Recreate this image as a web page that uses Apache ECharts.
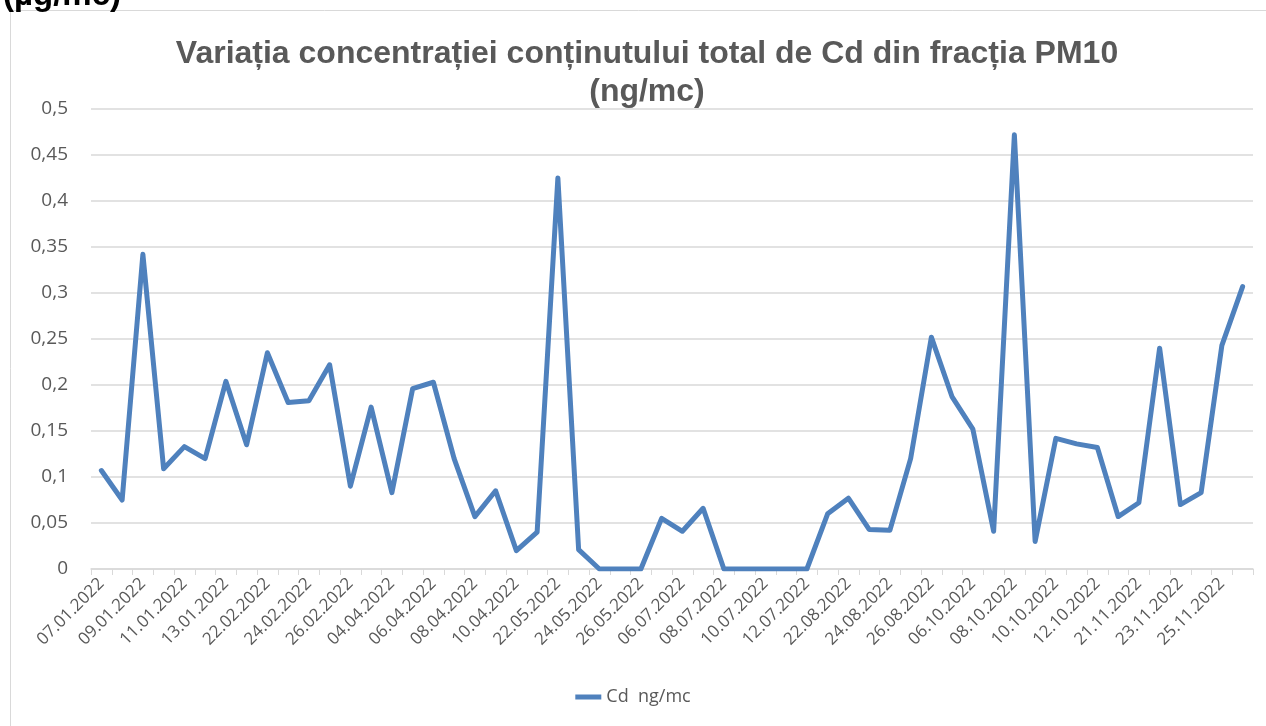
<!DOCTYPE html>
<html>
<head>
<meta charset="utf-8">
<script src="https://cdn.jsdelivr.net/npm/echarts@6/dist/echarts.min.js"></script>
<style>
  html, body { margin: 0; padding: 0; background: #fff; }
  #main { width: 1266px; height: 726px; }
</style>
</head>
<body>
<div id="main"></div>
<script>
// datele de prelevare (doar fiecare a doua este afisata pe axa)
var dates = [
  "07.01.2022", "08.01.2022", "09.01.2022", "10.01.2022", "11.01.2022", "12.01.2022",
  "13.01.2022", "14.01.2022", "22.02.2022", "23.02.2022", "24.02.2022", "25.02.2022",
  "26.02.2022", "27.02.2022", "04.04.2022", "05.04.2022", "06.04.2022", "07.04.2022",
  "08.04.2022", "09.04.2022", "10.04.2022", "11.04.2022", "22.05.2022", "23.05.2022",
  "24.05.2022", "25.05.2022", "26.05.2022", "27.05.2022", "06.07.2022", "07.07.2022",
  "08.07.2022", "09.07.2022", "10.07.2022", "11.07.2022", "12.07.2022", "13.07.2022",
  "22.08.2022", "23.08.2022", "24.08.2022", "25.08.2022", "26.08.2022", "27.08.2022",
  "06.10.2022", "07.10.2022", "08.10.2022", "09.10.2022", "10.10.2022", "11.10.2022",
  "12.10.2022", "13.10.2022", "21.11.2022", "22.11.2022", "23.11.2022", "24.11.2022",
  "25.11.2022", "26.11.2022"
];

// Cd ng/mc
var cd = [
  0.107, 0.075, 0.342, 0.109, 0.133, 0.120, 0.204, 0.135, 0.235, 0.181,
  0.183, 0.222, 0.090, 0.176, 0.083, 0.196, 0.203, 0.120, 0.057, 0.085,
  0.020, 0.040, 0.425, 0.021, 0, 0, 0, 0.055, 0.041, 0.066,
  0, 0, 0, 0, 0, 0.060, 0.077, 0.043, 0.042, 0.120,
  0.252, 0.187, 0.152, 0.041, 0.472, 0.030, 0.142, 0.136, 0.132, 0.057,
  0.072, 0.240, 0.070, 0.083, 0.243, 0.307
];

var seriesName = "Cd  ng/mc";
var gray = "#595959";

var myChart = echarts.init(document.getElementById("main"));
myChart.setOption({
  animation: false,
  backgroundColor: "#fff",
  title: {
    text: "Variația concentrației conținutului total de Cd din fracția PM10\n(ng/mc)",
    left: 642,
    textAlign: "center",
    top: 30,
    textStyle: {
      color: gray,
      fontFamily: "Liberation Sans",
      fontWeight: "bold",
      fontSize: 32,
      lineHeight: 38
    }
  },
  graphic: [
    {
      type: "rect",
      shape: { x: 10.5, y: 10.5, width: 1300, height: 800 },
      style: { fill: "none", stroke: "#d9d9d9", lineWidth: 1 },
      silent: true
    },
    {
      type: "text",
      left: 3,
      top: -21,
      style: {
        text: "(µg/mc)",
        fill: "#000",
        font: "bold 33px 'Liberation Sans'"
      },
      silent: true
    }
  ],
  legend: {
    bottom: 15,
    left: "center",
    icon: "rect",
    itemWidth: 26,
    itemHeight: 5,
    itemGap: 8,
    textStyle: { color: gray, fontSize: 18, fontFamily: "Open Sans" },
    data: [seriesName]
  },
  grid: { left: 91, right: 13, top: 109, bottom: 157 },
  xAxis: {
    type: "category",
    data: dates,
    boundaryGap: true,
    axisLine: { lineStyle: { color: "#d9d9d9", width: 1.5 } },
    axisTick: { show: true, interval: 0, length: 6, lineStyle: { color: "#d9d9d9" } },
    axisLabel: {
      interval: 1,
      rotate: 45,
      color: gray,
      fontSize: 17,
      fontFamily: "Open Sans",
      margin: 12
    }
  },
  yAxis: {
    type: "value",
    min: 0,
    max: 0.5,
    interval: 0.05,
    axisLine: { show: false },
    axisTick: { show: false },
    splitLine: { lineStyle: { color: "#d9d9d9", width: 1.5 } },
    axisLabel: {
      color: gray,
      fontSize: 19,
      fontFamily: "Open Sans",
      margin: 23,
      formatter: function (v) {
        return String(Math.round(v * 100) / 100).replace(".", ",");
      }
    }
  },
  series: [
    {
      name: seriesName,
      type: "line",
      data: cd,
      symbol: "none",
      lineStyle: { color: "#4f81bd", width: 5, join: "round", cap: "round" },
      itemStyle: { color: "#4f81bd" }
    }
  ]
});
</script>
</body>
</html>
